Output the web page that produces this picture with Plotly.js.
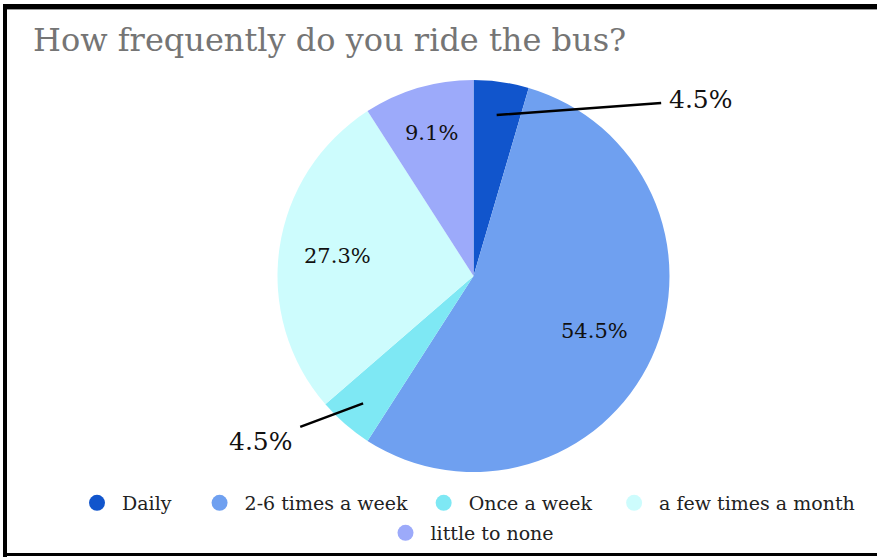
<!DOCTYPE html>
<html>
<head>
<meta charset="utf-8">
<script src="https://cdn.plot.ly/plotly-3.0.1.min.js"></script>
<style>
  html, body { margin: 0; padding: 0; background: #ffffff; overflow: hidden; }
  #chart { position: absolute; left: 0; top: 0; width: 877px; height: 559px; }
  .bt { position: absolute; left: 3px; top: 4px; width: 874px; height: 5px; background: #000; }
  .bt2 { position: absolute; left: 3px; top: 9px; width: 874px; height: 1px; background: #999; }
  .bl { position: absolute; left: 3px; top: 4px; width: 4px; height: 553px; background: #000; }
  .bb { position: absolute; left: 3px; top: 553px; width: 874px; height: 3px; background: #000; }
</style>
</head>
<body>
<div id="chart"></div>
<div class="bt"></div><div class="bt2"></div><div class="bl"></div><div class="bb"></div>
<script>
// ---- data ----
const categories = ["Daily", "2-6 times a week", "Once a week", "a few times a month", "little to none"];
const counts = [1, 12, 1, 6, 2];
const sliceColors = ["#1155cc", "#6fa0f0", "#7ee8f4", "#cdfcfd", "#9caafa"];
const chartTitle = "How frequently do you ride the bus?";

// ---- geometry (styling) ----
const W = 877, H = 559;
const cx = 473.5, cy = 276, R = 196;
const serif = "'DejaVu Serif', serif";

const total = counts.reduce((a, b) => a + b, 0);
const pct = counts.map(v => (v / total * 100).toFixed(1) + "%");

// label placement per slice: inside (fraction of R) or outside with leader line
const labelStyle = [
  {mode: "out", tip: 0.83, ax: 204, ay: -15},
  {mode: "in", r: 0.68},
  {mode: "out", tip: 0.86, ax: -102, ay: 38},
  {mode: "in", r: 0.70},
  {mode: "in", r: 0.76}
];

const annotations = [];
let cum = 0;
counts.forEach((v, i) => {
  const mid = (cum + v / 2) / total * 2 * Math.PI; // clockwise from top
  cum += v;
  const st = labelStyle[i];
  const dx = Math.sin(mid), dy = -Math.cos(mid);
  if (st.mode === "in") {
    const px = cx + dx * R * st.r, py = cy + dy * R * st.r;
    annotations.push({
      x: px / W, y: 1 - py / H, xref: "paper", yref: "paper",
      xanchor: "center", yanchor: "middle",
      text: pct[i], showarrow: false,
      font: {family: serif, size: 21, color: "#111"}
    });
  } else {
    const px = cx + dx * R * st.tip, py = cy + dy * R * st.tip;
    annotations.push({
      x: px / W, y: 1 - py / H, xref: "paper", yref: "paper",
      text: pct[i], showarrow: true, arrowhead: 0, arrowwidth: 2.5,
      arrowcolor: "#000", ax: st.ax, ay: st.ay, standoff: 0, startstandoff: 6,
      font: {family: serif, size: 25, color: "#111"}
    });
  }
});

const pie = {
  type: "pie",
  labels: categories,
  values: counts,
  sort: false,
  direction: "clockwise",
  rotation: 0,
  marker: {colors: sliceColors, line: {width: 0}},
  textinfo: "none",
  hoverinfo: "label+percent",
  showlegend: false,
  domain: {x: [(cx - R) / W, (cx + R) / W], y: [1 - (cy + R) / H, 1 - (cy - R) / H]}
};

// legend-only traces with circular markers (first four on row one, last on row two)
const padCounts = [3, 1, 2, 0, 0];
const legendTraces = categories.map((c, i) => ({
  type: "scatter", mode: "markers", x: [null], y: [null],
  name: c + "\u00a0".repeat(padCounts[i]),
  legend: i < 4 ? "legend" : "legend2",
  marker: {symbol: "circle", size: 16, color: sliceColors[i]},
  hoverinfo: "skip", showlegend: true
}));

const legendCommon = {
  orientation: "h", xanchor: "center", yanchor: "middle",
  font: {family: serif, size: 19, color: "#222"},
  itemwidth: 40, bgcolor: "rgba(0,0,0,0)"
};

const layout = {
  width: W, height: H,
  margin: {l: 0, r: 0, t: 0, b: 0, autoexpand: false},
  paper_bgcolor: "#ffffff", plot_bgcolor: "#ffffff",
  title: {
    text: chartTitle, x: 33 / W, xanchor: "left", xref: "paper",
    y: 1 - 40 / H, yanchor: "middle", yref: "paper",
    font: {family: serif, size: 32, color: "#757575"}
  },
  xaxis: {visible: false}, yaxis: {visible: false},
  showlegend: true,
  legend: Object.assign({}, legendCommon, {x: 466 / W, y: 1 - 503 / H}),
  legend2: Object.assign({}, legendCommon, {x: 470 / W, y: 1 - 533 / H}),
  annotations: annotations
};

Plotly.newPlot("chart", [pie].concat(legendTraces), layout, {displayModeBar: false, staticPlot: true});
</script>
</body>
</html>
